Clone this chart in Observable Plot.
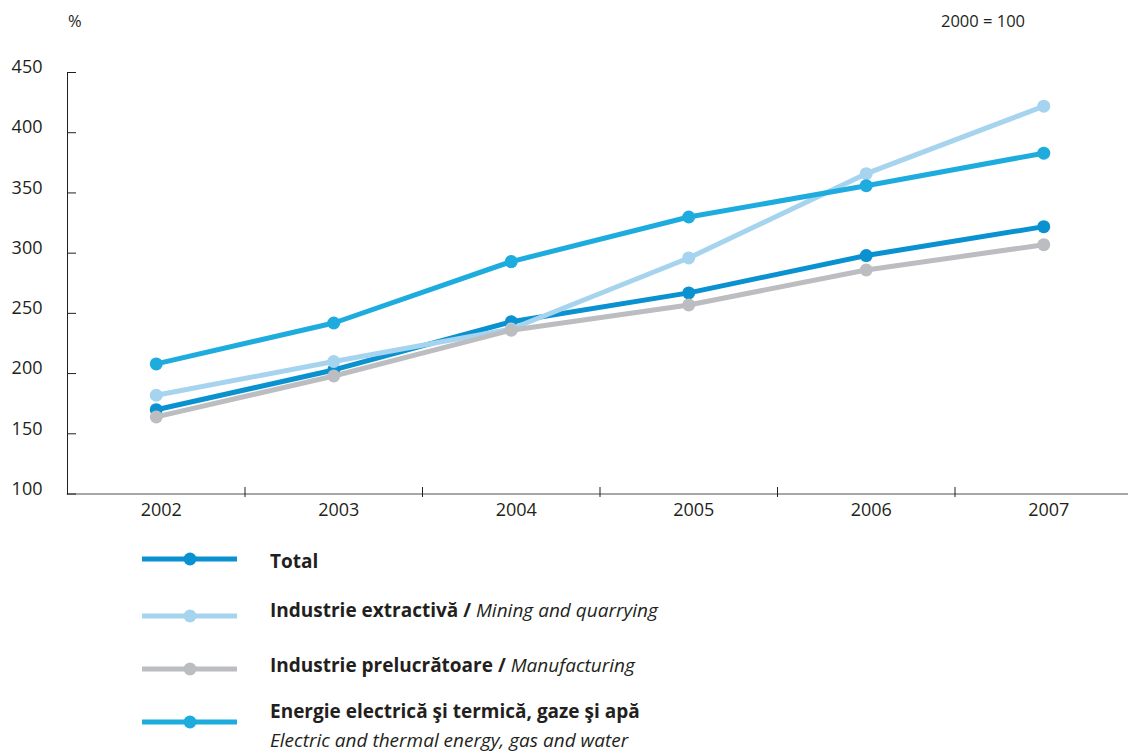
<!DOCTYPE html>
<html>
<head>
<meta charset="utf-8">
<script src="https://cdn.jsdelivr.net/npm/d3@7"></script>
<script src="https://cdn.jsdelivr.net/npm/@observablehq/plot@0.6"></script>
<style>
  html, body { margin: 0; padding: 0; background: #fff; }
  #wrap { position: relative; width: 1128px; height: 754px; font-family: "Open Sans", sans-serif; color: #231f20; }
  #chart { position: absolute; left: 0; top: 0; }
  .hdr { position: absolute; font-size: 16.5px; line-height: 1; }
  .leg { position: absolute; left: 0; }
  .leg svg { position: absolute; left: 0; top: 0; }
  .leg .t { position: absolute; left: 270px; font-size: 19px; white-space: nowrap; line-height: 1; }
  .leg b { font-weight: 700; }
  .leg i { font-style: italic; }
</style>
</head>
<body>
<div id="wrap">
  <div id="chart"></div>
  <div class="hdr" style="left:68px; top:13px;">%</div>
  <div class="hdr" style="left:941px; top:13px;">2000 = 100</div>
  <div id="legend"></div>
</div>
<script>
const years = [2002, 2003, 2004, 2005, 2006, 2007];
const total = [170, 203, 243, 267, 298, 322];
const mining = [182, 210, 237, 296, 366, 422];
const manufacturing = [164, 198, 236, 257, 286, 307];
const energy = [208, 242, 293, 330, 356, 383];
const yTicks = [100, 150, 200, 250, 300, 350, 400, 450];

const seriesNames = ["Total", "Mining", "Manufacturing", "Energy"];
const seriesValues = [total, mining, manufacturing, energy];
const seriesColors = ["#0a91d0", "#a6d4ef", "#bcbdc0", "#1eacdf"];
const legendBold = ["Total", "Industrie extractivă / ", "Industrie prelucrătoare / ", "Energie electrică şi termică, gaze şi apă"];
const legendItalic = ["", "Mining and quarrying", "Manufacturing", "Electric and thermal energy, gas and water"];

const rows = seriesNames.flatMap((s, i) => years.map((y, j) => ({series: s, year: y, value: seriesValues[i][j]})));
const boundaries = years.slice(1).map(y => y - 0.5);

const chart = Plot.plot({
  width: 1128,
  height: 530,
  marginLeft: 67,
  marginRight: 0,
  marginTop: 72,
  marginBottom: 36.5,
  style: {fontFamily: "Open Sans, sans-serif", color: "#231f20", background: "white"},
  x: {type: "linear", domain: [years[0] - 0.5, years[years.length - 1] + 0.5], range: [67, 1132], label: null},
  y: {domain: [100, 450], label: null},
  color: {domain: seriesNames, range: seriesColors},
  marks: [
    Plot.frame({anchor: "bottom", stroke: "#8a8a8a", strokeWidth: 1.5}),
    Plot.frame({anchor: "left", stroke: "#231f20", strokeWidth: 1}),
    Plot.axisY(yTicks, {tickSize: 0, tickPadding: 25, dy: -5, fontSize: 18, fill: "#231f20", label: null}),
    Plot.axisY(yTicks, {tickSize: -9, fill: "none", stroke: "#231f20", label: null}),
    Plot.axisX(years, {tickSize: 0, tickPadding: 9, dx: 5, fontSize: 18, tickFormat: d => String(d), fill: "#231f20", label: null}),
    Plot.axisX(boundaries, {tickSize: 10, dy: -6.5, fill: "none", stroke: "#231f20", label: null}),
    ...seriesNames.flatMap(s => [
      Plot.line(rows.filter(r => r.series === s), {x: "year", y: "value", stroke: "series", strokeWidth: 5}),
      Plot.dot(rows.filter(r => r.series === s), {x: "year", y: "value", fill: "series", r: 6.5})
    ])
  ]
});
document.getElementById("chart").appendChild(chart);

// legend
const legendTops = [559, 616, 669, 722];
const textOffsets = [3, -5, -3, -10];
const legendEl = document.getElementById("legend");
seriesNames.forEach((s, i) => {
  const row = document.createElement("div");
  row.className = "leg";
  row.style.top = (legendTops[i] - 10) + "px";
  row.innerHTML = `<svg width="260" height="20"><line x1="142" x2="237" y1="10" y2="10" stroke="${seriesColors[i]}" stroke-width="5"/><circle cx="190" cy="10" r="6.5" fill="${seriesColors[i]}"/></svg>`;
  const t = document.createElement("div");
  t.className = "t";
  t.style.top = textOffsets[i] + "px";
  if (i === 3) {
    t.innerHTML = `<b>${legendBold[i]}</b><div style="margin-top:10px"><i>${legendItalic[i]}</i></div>`;
  } else {
    t.innerHTML = `<b>${legendBold[i]}</b><i>${legendItalic[i]}</i>`;
  }
  row.appendChild(t);
  legendEl.appendChild(row);
});
</script>
</body>
</html>
